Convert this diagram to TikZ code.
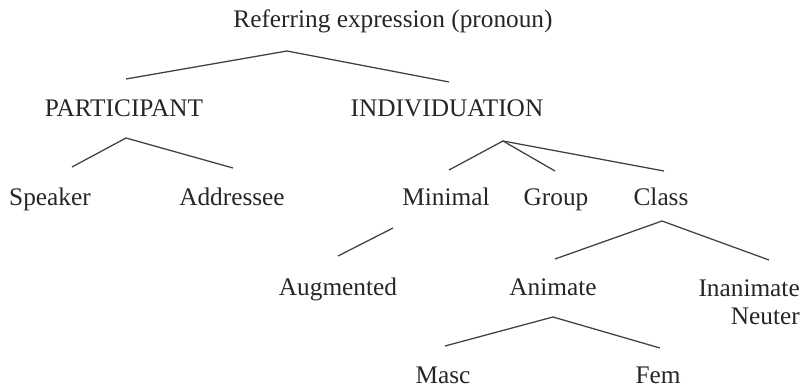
\documentclass[tikz,border=0pt]{standalone}
\usepackage{fontspec}
\setmainfont{Liberation Serif}
\usepackage{tikz}
\usetikzlibrary{positioning,calc}

\begin{document}
\begin{tikzpicture}[
    x=0.025cm, y=-0.025cm,
    % Stili base
    term/.style={anchor=base, inner sep=0pt, text=black!85, font=\fontsize{18}{19.9}\selectfont},
    branch/.style={draw=black!75, line width=0.9pt}
]
\useasboundingbox (0,0) rectangle (802,387);

% === RADICE ===
\node[term] (root) at (393,28) {Referring expression (pronoun)};

% === LIVELLO 1 ===
\node[term] (part) at (124,116.5) {PARTICIPANT};
\node[term] (indiv) at (447,116.5) {INDIVIDUATION};

% === LIVELLO 2 ===
\node[term] (speaker) at (50,205) {Speaker};
\node[term] (addr) at (232,205) {Addressee};
\node[term] (minimal) at (446,205) {Minimal};
\node[term] (group) at (556,205) {Group};
\node[term] (class) at (661,205) {Class};

% === LIVELLO 3 ===
\node[term] (augm) at (338,295) {Augmented};
\node[term] (anim) at (553,295) {Animate};
\node[term, anchor=base east, align=right] (inanim) at (800,324) {Inanimate\\Neuter};

% === LIVELLO 4 ===
\node[term] (masc) at (443,383) {Masc};
\node[term] (fem) at (658,383) {Fem};

% Punti di attacco
\coordinate (root-a) at (287,51);
\coordinate (part-t) at (126,79);
\coordinate (indiv-t) at (449,82);
\coordinate (part-a) at (126,138);
\coordinate (speaker-t) at (72,167);
\coordinate (addr-t) at (233,168);
\coordinate (indiv-a) at (503,141);
\coordinate (minimal-t) at (449,170);
\coordinate (group-t) at (555,171);
\coordinate (class-t) at (664,171);
\coordinate (minimal-a) at (393,228);
\coordinate (augm-t) at (338,256);
\coordinate (class-a) at (662,221);
\coordinate (anim-t) at (555,259);
\coordinate (inanim-t) at (769,260);
\coordinate (anim-a) at (553,317);
\coordinate (masc-t) at (445,346);
\coordinate (fem-t) at (660,348);

% Connessioni
\draw[branch] (part-t) -- (root-a) -- (indiv-t);
\draw[branch] (speaker-t) -- (part-a) -- (addr-t);
\draw[branch] (minimal-t) -- (indiv-a) -- (group-t);
\draw[branch] (indiv-a) -- (class-t);
\draw[branch] (minimal-a) -- (augm-t);
\draw[branch] (anim-t) -- (class-a) -- (inanim-t);
\draw[branch] (masc-t) -- (anim-a) -- (fem-t);

\end{tikzpicture}
\end{document}
